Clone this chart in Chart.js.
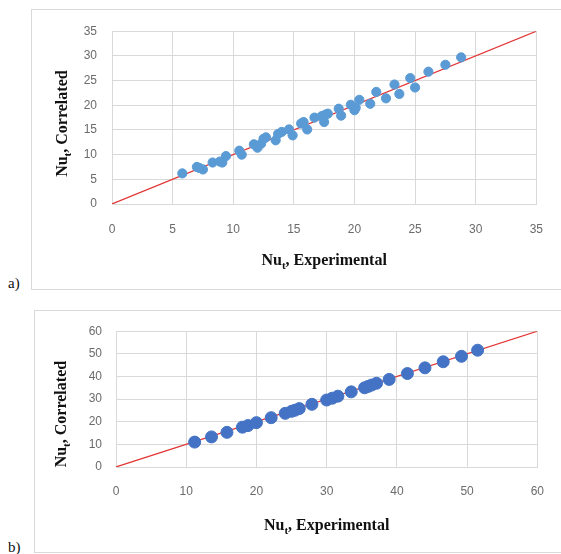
<!DOCTYPE html>
<html lang="en">
<head>
    <meta charset="utf-8">
    <script src="https://cdn.jsdelivr.net/npm/chart.js"></script>
    <title>Nu_t correlated vs experimental</title>
    <style>
        body { margin: 0; background: #fff; width: 561px; height: 554px; overflow: hidden; position: relative; }
        .box { position: absolute; border: 1px solid #d9d9d9; box-sizing: border-box; }
        canvas { position: absolute; }
        .tag { position: absolute; font: 15px "Liberation Serif", serif; color: #111; }
    </style>
</head>
<body>

<div class="box" style="left:31px; top:9px; width:560px; height:281px;"></div>
<div class="box" style="left:34px; top:310px; width:560px; height:243px;"></div>

<canvas id="chartA" width="529" height="281" style="left:32px; top:9px;"></canvas>
<canvas id="chartB" width="526" height="243" style="left:35px; top:310px;"></canvas>

<div class="tag" style="left:8px; top:275px;">a)</div>
<div class="tag" style="left:8px; top:539px;">b)</div>

<script>
    // panel a) data
    const expA = [5.8, 7.0, 7.2, 7.5, 8.3, 8.9, 9.1, 9.4, 10.5, 10.7, 11.7, 12.0, 12.3, 12.5, 12.7,
                  13.5, 13.7, 14.0, 14.6, 14.9, 15.6, 15.8, 16.1, 16.7, 17.3, 17.5, 17.6, 17.8,
                  18.7, 18.9, 19.7, 20.0, 20.1, 20.4, 21.3, 21.8, 22.6, 23.3, 23.7, 24.6, 25.0,
                  26.1, 27.5, 28.8];
    const corA = [6.2, 7.5, 7.3, 7.0, 8.4, 8.6, 8.4, 9.7, 10.8, 10.0, 12.1, 11.4, 12.2, 13.2, 13.5,
                  12.9, 14.2, 14.6, 15.1, 13.9, 16.3, 16.6, 15.1, 17.5, 17.8, 16.6, 18.1, 18.3,
                  19.3, 17.9, 20.1, 19.0, 19.5, 21.1, 20.3, 22.7, 21.4, 24.2, 22.3, 25.5, 23.6,
                  26.8, 28.2, 29.7];
    const lineA = [0, 35];   // y = x reference line ends
    const ticksA = { max: 35, step: 5 };

    // panel b) data
    const expB = [11.2, 13.6, 15.8, 18.0, 18.8, 20.0, 22.1, 24.1, 25.0, 25.5, 26.1, 27.9, 30.0,
                  30.8, 31.6, 33.5, 35.4, 35.9, 36.4, 37.1, 38.9, 41.5, 44.0, 46.6, 49.2, 51.5];
    const corB = [11.0, 13.3, 15.3, 17.6, 18.3, 19.6, 21.8, 23.7, 24.6, 25.1, 25.8, 27.7, 29.6,
                  30.4, 31.3, 33.2, 35.0, 35.6, 36.2, 37.0, 38.7, 41.3, 43.8, 46.5, 48.9, 51.6];
    const lineB = [0, 60];
    const ticksB = { max: 60, step: 10 };

    // draws "Nu" + subscript t + rest, centred at (cx, baseline)
    function drawNuText(ctx, rest, cx, cy, angle) {
        const big = 'bold 16px "Liberation Serif", serif';
        const small = 'bold 11px "Liberation Serif", serif';
        ctx.save();
        ctx.translate(cx, cy);
        ctx.rotate(angle);
        ctx.fillStyle = '#111';
        ctx.textBaseline = 'alphabetic';
        ctx.textAlign = 'left';
        ctx.font = big;
        const w1 = ctx.measureText('Nu').width;
        const w3 = ctx.measureText(rest).width;
        ctx.font = small;
        const w2 = ctx.measureText('t').width;
        let x = -(w1 + w2 + w3) / 2;
        ctx.font = big;
        ctx.fillText('Nu', x, 0);
        ctx.font = small;
        ctx.fillText('t', x + w1, 4);
        ctx.font = big;
        ctx.fillText(rest, x + w1 + w2, 0);
        ctx.restore();
    }

    const nuTitles = {
        id: 'nuTitles',
        afterDraw(chart, args, opts) {
            const a = chart.chartArea;
            const ctx = chart.ctx;
            drawNuText(ctx, ', Experimental', (a.left + a.right) / 2, a.bottom + opts.xOff, 0);
            drawNuText(ctx, ', Correlated', a.left - opts.yOff, (a.top + a.bottom) / 2 + opts.yShift, -Math.PI / 2);
        }
    };

    function makeChart(id, xs, ys, line, tk, dot, geo) {
        const points = xs.map((x, i) => ({ x: x, y: ys[i] }));
        const tickFont = { family: '"Liberation Sans", sans-serif', size: 12 };
        const grid = { color: '#d9d9d9', lineWidth: 1, drawTicks: false };
        return new Chart(document.getElementById(id), {
            type: 'scatter',
            data: {
                datasets: [{
                    data: points,
                    backgroundColor: dot.color,
                    borderColor: dot.color,
                    pointRadius: dot.r,
                    pointHoverRadius: dot.r,
                    order: 1
                }, {
                    type: 'line',
                    data: line.map(v => ({ x: v, y: v })),
                    borderColor: 'rgb(226, 52, 52)',
                    borderWidth: 1.2,
                    pointRadius: 0,
                    fill: false,
                    order: 2
                }]
            },
            options: {
                responsive: false,
                animation: false,
                layout: { padding: { top: geo.top, right: geo.right, left: 0, bottom: 0 } },
                plugins: {
                    legend: { display: false },
                    tooltip: { enabled: false },
                    nuTitles: { xOff: geo.xOff, yOff: geo.yOff, yShift: geo.yShift }
                },
                scales: {
                    x: {
                        type: 'linear', min: 0, max: tk.max,
                        ticks: { stepSize: tk.step, color: '#6b6b6b', font: tickFont, padding: geo.xPad },
                        grid: grid,
                        border: { color: '#d9d9d9' },
                        afterFit: s => { s.height = geo.xH; }
                    },
                    y: {
                        type: 'linear', min: 0, max: tk.max,
                        ticks: { stepSize: tk.step, color: '#6b6b6b', font: tickFont, padding: geo.yPad },
                        grid: grid,
                        border: { color: '#d9d9d9' },
                        afterFit: s => { s.width = geo.yW; }
                    }
                }
            },
            plugins: [nuTitles]
        });
    }

    makeChart('chartA', expA, corA, lineA, ticksA,
        { color: '#5B9BD5', r: 4.6 },
        { top: 17, right: 22, xH: 86, yW: 80, xPad: 18, yPad: 15, xOff: 61, yOff: 45, yShift: 6 });

    makeChart('chartB', expB, corB, lineB, ticksB,
        { color: '#4472C4', r: 6 },
        { top: 16, right: 14, xH: 86, yW: 81, xPad: 17, yPad: 14, xOff: 63, yOff: 50, yShift: 15 });
</script>

</body>
</html>
